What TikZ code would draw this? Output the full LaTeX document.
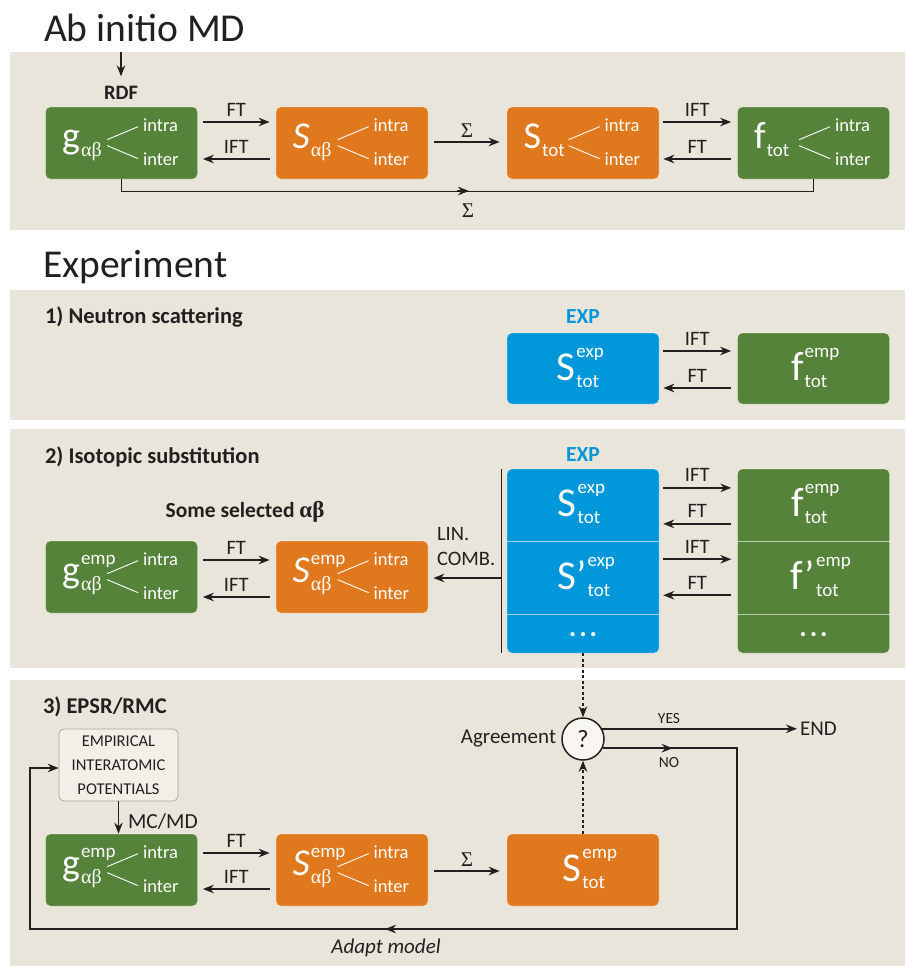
\documentclass[tikz,border=0pt]{standalone}
\usepackage{fontspec}
\setmainfont{Carlito}
\newfontfamily\grk{Liberation Serif}
\usetikzlibrary{calc,arrows.meta}
\definecolor{panelbg}{HTML}{E9E5DA}
\definecolor{ggreen}{HTML}{56833A}
\definecolor{sorange}{HTML}{E0781E}
\definecolor{eblue}{HTML}{0096DA}
\definecolor{ink}{HTML}{231F20}
\definecolor{qfill}{HTML}{F8F6F1}
\definecolor{empfill}{HTML}{F2EFE8}
\definecolor{empdraw}{HTML}{A9A7A2}
\newcommand{\fsz}[1]{\fontsize{#1}{#1}\selectfont}
% split box content: #1 box, #2 shape cmd, #3 main letter, #4 sup, #5 sub
\newcommand{\splitparts}[5]{%
  \node[mainl, anchor=base west] (#1-m) at ($(#1.north west)+(17,42)$) {#2#3};
  \if\relax\detokenize{#4}\relax\else
    \node[supl, anchor=base west] (#1-p) at ($(#1-m.base east)+(1,-18)$) {#4};
  \fi
  \node[subl, anchor=base west] (#1-b) at ($(#1-m.base east)+(1,8)$) {#5};
  \draw[spl] ($(#1.north west)+(62,33)$) -- ($(#1.north west)+(93,20)$);
  \draw[spl] ($(#1.north west)+(62,39)$) -- ($(#1.north west)+(93,52)$);
  \node[intral, anchor=base west] (#1-i) at ($(#1.north west)+(98,25)$) {intra};
  \node[intral, anchor=base west] (#1-e) at ($(#1.north west)+(98,59)$) {inter};
}
% sup/sub content: #1 cell, #2 x offset, #3 main, #4 sup, #5 sub
\newcommand{\ssparts}[5]{%
  \node[bigl, anchor=base west] (#1-m) at ($(#1.north west)+(#2,48)$) {#3};
  \node[supl, anchor=base west] (#1-p) at ($(#1-m.base east)+(1,-23)$) {#4};
  \node[supl, anchor=base west] (#1-b) at ($(#1-m.base east)+(1,7)$) {#5};
}
\newcommand{\gab}{{\grk\fsz{20}αβ}}
\begin{document}
\begin{tikzpicture}[x=1pt,y=-1pt,
  box/.style={rounded corners=5pt, minimum width=152pt, minimum height=72pt, inner sep=0pt, draw=white, draw opacity=0.3, line width=0.7pt},
  gbox/.style={box, fill=ggreen},
  obox/.style={box, fill=sorange},
  bbox/.style={box, fill=eblue},
  cellbox/.style={minimum width=152pt, inner sep=0pt},
  txt/.style={text=ink, inner sep=0pt, outer sep=0pt},
  wtxt/.style={text=white, inner sep=0pt, outer sep=0pt},
  mainl/.style={wtxt, font=\fsz{38}},
  bigl/.style={wtxt, font=\fsz{41}},
  subl/.style={wtxt, font=\fsz{19}},
  supl/.style={wtxt, font=\fsz{19}},
  intral/.style={wtxt, font=\fsz{18.5}},
  spl/.style={draw=white, line width=0.9pt},
  divl/.style={draw=white, draw opacity=0.6, line width=1pt},
  lbl/.style={txt, font=\fsz{20.5}},
  ttl/.style={txt, font=\fsz{39.5}},
  hd/.style={txt, font=\fsz{22.5}\bfseries},
  arr/.style={draw=ink, line width=1.6pt, -{Stealth[length=11pt,width=8.5pt]}},
  conn/.style={draw=ink, line width=1.6pt},
  dotarr/.style={arr, dash pattern=on 3pt off 2.5pt},
]
\useasboundingbox (0,0) rectangle (905,966);
% panels
\fill[panelbg] (10,52) rectangle (905,230);
\fill[panelbg] (10,290) rectangle (905,420);
\fill[panelbg] (10,429) rectangle (905,668);
\fill[panelbg] (10,680) rectangle (905,966);
% titles
\node[ttl, anchor=base west] (tab) at (44,42) {Ab initio MD};
\node[ttl, anchor=base west] (texp) at (43,277) {Experiment};

% ---------- Ab initio MD ----------
\node[txt, font=\fsz{20.5}\bfseries] (rdf) at (121,93) {RDF};
\coordinate (rdftop) at (121,52);
\draw[arr] (rdftop) -- ($(rdf.north)+(0,-10)$);
\node[gbox] (g1) at (121.5,143) {};
\splitparts{g1}{}{g}{}{\gab}
\node[obox] (s1) at (352,143) {};
\splitparts{s1}{\itshape}{S}{}{\gab}
\node[obox] (t1) at (583,143) {};
\splitparts{t1}{}{S}{}{tot}
\node[gbox] (f1) at (813.5,143) {};
\splitparts{f1}{}{f}{}{tot}
\draw[arr] ($(g1.east)+(5,-21)$) -- node[lbl, above=6pt] (la1) {FT} ($(s1.west)+(-6,-21)$);
\draw[arr] ($(s1.west)+(-6,16)$) -- node[lbl, above=6pt] (la2) {IFT} ($(g1.east)+(5,16)$);
\draw[arr] ($(s1.east)+(6,-1)$) -- node[txt, font=\fsz{21}\grk, above=5pt] (la3) {Σ} ($(t1.west)+(-7,-1)$);
\draw[arr] ($(t1.east)+(4,-21)$) -- node[lbl, above=6pt] (la4) {IFT} ($(f1.west)+(-6,-21)$);
\draw[arr] ($(f1.west)+(-6,16)$) -- node[lbl, above=6pt] (la5) {FT} ($(t1.east)+(4,16)$);
\draw[conn] (g1.south) -- ++(0,12) -| (f1.south);
\coordinate (sigm) at (469,191);
\draw[arr] ($(sigm)+(-12,0)$) -- (sigm);
\node[txt, font=\fsz{21}\grk] (sig2) at (468,211) {Σ};

% ---------- 1) Neutron scattering ----------
\node[hd, anchor=west] (h1) at (45,317) {1) Neutron scattering};
\node[txt, font=\fsz{21.5}\bfseries, text=eblue] (exp1) at (583,317) {EXP};
\node[bbox, minimum height=71pt] (sx2) at (583,368.5) {};
\ssparts{sx2}{50}{S}{exp}{tot}
\node[gbox, minimum height=71pt] (fx2) at (813.5,368.5) {};
\ssparts{fx2}{54}{f}{emp}{tot}
\draw[arr] ($(sx2.east)+(4,-17.5)$) -- node[lbl, above=6pt] (lb1) {IFT} ($(fx2.west)+(-6,-17.5)$);
\draw[arr] ($(fx2.west)+(-6,19.5)$) -- node[lbl, above=6pt] (lb2) {FT} ($(sx2.east)+(4,19.5)$);

% ---------- 2) Isotopic substitution ----------
\node[hd, anchor=west] (h2) at (45,457) {2) Isotopic substitution};
\node[txt, font=\fsz{21.5}\bfseries] (sel) at (245,512) {Some selected {\grk\fsz{23}αβ}};
\node[gbox] (g2) at (121.5,577) {};
\splitparts{g2}{}{g}{emp}{\gab}
\node[obox] (s2) at (352,577) {};
\splitparts{s2}{\itshape}{S}{emp}{\gab}
\draw[arr] ($(g2.east)+(5,-17)$) -- node[lbl, above=6pt] (lc1) {FT} ($(s2.west)+(-6,-17)$);
\draw[arr] ($(s2.west)+(-6,20)$) -- node[lbl, above=6pt] (lc2) {IFT} ($(g2.east)+(5,20)$);

\node[txt, font=\fsz{21.5}\bfseries, text=eblue] (exp2) at (583,455) {EXP};
\node[bbox, minimum height=184pt] (sx3) at (583,561) {};
\node[cellbox, minimum height=72pt, anchor=north] (sx3a) at (sx3.north) {};
\node[cellbox, minimum height=73pt, anchor=north] (sx3b) at (sx3a.south) {};
\node[cellbox, minimum height=39pt, anchor=north] (sx3c) at (sx3b.south) {};
\draw[divl] (sx3b.north west) -- (sx3b.north east);
\draw[divl] (sx3c.north west) -- (sx3c.north east);
\ssparts{sx3a}{51}{S}{exp}{tot}
\ssparts{sx3b}{51}{S’}{exp}{tot}
\node[wtxt, font=\fsz{28}\bfseries] (sx3d) at (sx3c.center) {.\kern3pt.\kern3pt.};

\node[gbox, minimum height=184pt] (fx3) at (813.5,561) {};
\node[cellbox, minimum height=72pt, anchor=north] (fx3a) at (fx3.north) {};
\node[cellbox, minimum height=73pt, anchor=north] (fx3b) at (fx3a.south) {};
\node[cellbox, minimum height=39pt, anchor=north] (fx3c) at (fx3b.south) {};
\draw[divl] (fx3b.north west) -- (fx3b.north east);
\draw[divl] (fx3c.north west) -- (fx3c.north east);
\ssparts{fx3a}{54}{f}{emp}{tot}
\ssparts{fx3b}{53}{f’}{emp}{tot}
\node[wtxt, font=\fsz{28}\bfseries] (fx3d) at (fx3c.center) {.\kern3pt.\kern3pt.};

\draw[arr] ($(sx3a.east)+(4,-17)$) -- node[lbl, above=6pt] (ld1) {IFT} ($(fx3a.west)+(-6,-17)$);
\draw[arr] ($(fx3a.west)+(-6,19)$) -- node[lbl, above=6pt] (ld2) {FT} ($(sx3a.east)+(4,19)$);
\draw[arr] ($(sx3b.east)+(4,-18.5)$) -- node[lbl, above=6pt] (ld3) {IFT} ($(fx3b.west)+(-6,-18.5)$);
\draw[arr] ($(fx3b.west)+(-6,17.5)$) -- node[lbl, above=6pt] (ld4) {FT} ($(sx3b.east)+(4,17.5)$);

\draw[draw=ink, line width=1.1pt] ($(sx3.north west)+(-5,0)$) -- ($(sx3.south west)+(-5,0)$);
\draw[arr] ($(sx3.west)+(-5,17)$) -- ($(s2.east)+(5,1)$);
\node[txt, font=\fontsize{20.5}{25}\selectfont, anchor=west, align=left] (lin) at (437,546) {LIN.\\COMB.};

% ---------- 3) EPSR/RMC ----------
\node[hd, anchor=west] (h3) at (43,707) {3) EPSR/RMC};
\node[rounded corners=5pt, minimum width=119pt, minimum height=72pt, inner sep=0pt, fill=empfill, draw=empdraw, line width=0.7pt, text=ink, align=center, font=\fontsize{16.5}{24}\selectfont] (emp) at (118.5,765) {EMPIRICAL\\INTERATOMIC\\POTENTIALS};
\node[gbox] (g3) at (121.5,870) {};
\splitparts{g3}{}{g}{emp}{\gab}
\node[obox] (s3) at (352,870) {};
\splitparts{s3}{\itshape}{S}{emp}{\gab}
\node[obox] (t3) at (583,870) {};
\ssparts{t3}{56}{S}{emp}{tot}
\draw[arr] (emp.south) -- (emp.south |- g3.north);
\node[txt, font=\fsz{21.5}, anchor=west] (mcmd) at (128,821) {MC/MD};
\draw[arr] ($(g3.east)+(5,-17)$) -- node[lbl, above=6pt] (le1) {FT} ($(s3.west)+(-6,-17)$);
\draw[arr] ($(s3.west)+(-6,19)$) -- node[lbl, above=6pt] (le2) {IFT} ($(g3.east)+(5,19)$);
\draw[arr] ($(s3.east)+(6,1)$) -- node[txt, font=\fsz{21}\grk, above=5pt] (le3) {Σ} ($(t3.west)+(-7,1)$);

\node[circle, draw=ink, line width=1.5pt, fill=qfill, minimum size=42pt, inner sep=0pt, font=\fsz{25}, text=ink] (q) at (583,739) {?};
\node[txt, font=\fsz{21}, anchor=east] (agr) at (556,739) {Agreement};
\draw[dotarr] (sx3.south) -- (q.north);
\draw[dotarr] (t3.north) -- (q.south);
\node[txt, font=\fsz{21}, anchor=west] (endn) at (800,729) {END};
\draw[arr] (q.28) -- ($(q.28 -| endn.west)+(-3,0)$);
\node[txt, font=\fsz{15.5}] (yes) at (669,719) {YES};
\node[txt, font=\fsz{15.5}] (no) at (669,763) {NO};
\coordinate (nor) at (737,929);
\coordinate (nol) at (30,929);
\draw[arr] (q.-25) -| (nor) -- (nol) |- ($(emp.west)+(0,3)$);
\draw[arr] ($(q.-25)+(58,0)$) -- ($(q.-25)+(70,0)$);
\draw[arr] ($(nol)+(367,0)$) -- ($(nol)+(355,0)$);
\node[txt, font=\fsz{21}\itshape] (adapt) at (386,948) {Adapt model};
\end{tikzpicture}
\end{document}
